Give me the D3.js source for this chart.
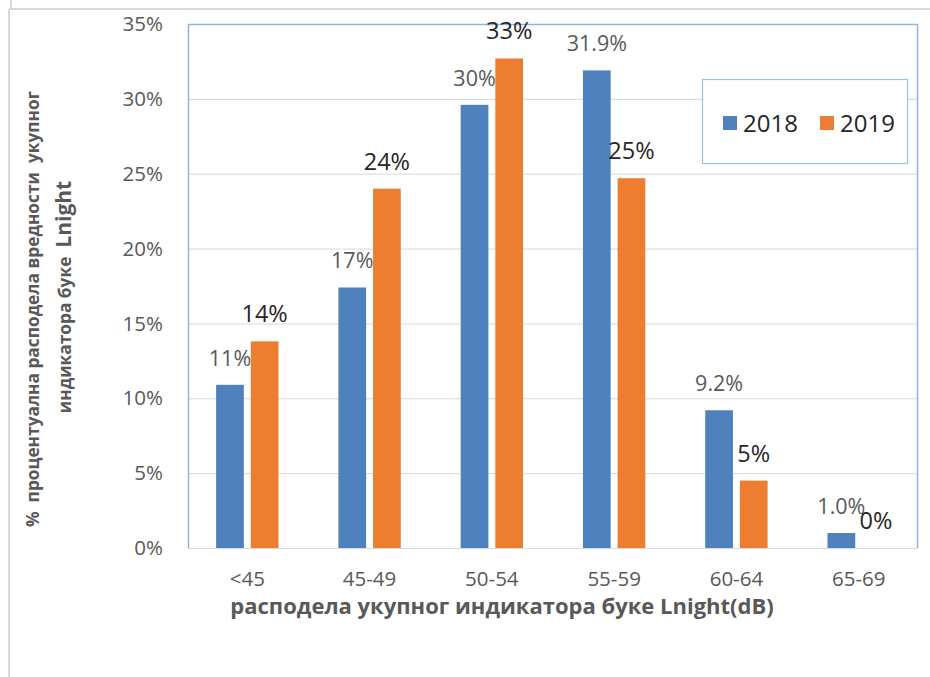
<!DOCTYPE html>
<meta charset="utf-8">
<style>
body { margin: 0; background: #fff; }
svg { display: block; font-family: "Open Sans", sans-serif; }
.grid line { stroke: #d9d9d9; stroke-width: 1; }
.tick-label { fill: #595959; font-size: 20.5px; }
.axis-title { fill: #595959; font-weight: bold; }
</style>
<svg width="930" height="677"></svg>
<script src="https://d3js.org/d3.v7.min.js"></script>
<script>
var categories = ["<45", "45-49", "50-54", "55-59", "60-64", "65-69"];
var series = ["2018", "2019"];
var values2018 = [10.9, 17.4, 29.6, 31.9, 9.2, 1.0];
var values2019 = [13.8, 24.0, 32.7, 24.7, 4.5, 0];
var labels2018 = ["11%", "17%", "30%", "31.9%", "9.2%", "1.0%"];
var labels2019 = ["14%", "24%", "33%", "25%", "5%", "0%"];
var yTicks = [0, 5, 10, 15, 20, 25, 30, 35];
var colors = ["#4f81bd", "#ed7d31"];

var svg = d3.select("svg");
var margin = {left: 188, top: 24, right: 12, bottom: 129};
var width = 930 - margin.left - margin.right,
    height = 677 - margin.top - margin.bottom;

// outer frame remnants from the screenshot
svg.append("line").attr("x1", 9).attr("x2", 9).attr("y1", 9).attr("y2", 677)
    .attr("stroke", "#d9d9d9").attr("stroke-width", 2);
svg.append("line").attr("x1", 9).attr("x2", 930).attr("y1", 9).attr("y2", 9)
    .attr("stroke", "#d9d9d9").attr("stroke-width", 2);
svg.append("line").attr("x1", 11).attr("x2", 11).attr("y1", 0).attr("y2", 9)
    .attr("stroke", "#d9d9d9").attr("stroke-width", 2);

var g = svg.append("g").attr("transform", "translate(" + margin.left + "," + margin.top + ")");

var x0 = d3.scaleBand().domain(categories).range([0, width])
    .paddingInner(0.49).paddingOuter(0.23);
var x1 = d3.scaleBand().domain(series).range([0, x0.bandwidth()]).paddingInner(0.2);
var y = d3.scaleLinear().domain([0, 35]).range([height, 0]);

// gridlines
g.append("g").attr("class", "grid")
  .selectAll("line").data(yTicks).enter().append("line")
    .attr("x1", 0).attr("x2", width)
    .attr("y1", function(d) { return y(d) + 0.5; })
    .attr("y2", function(d) { return y(d) + 0.5; });

// plot border (left, top, right)
g.append("path")
    .attr("d", "M0.5," + height + "V0.5H" + (width - 0.5) + "V" + height)
    .attr("fill", "none").attr("stroke", "#8eb4e3").attr("stroke-width", 1.5);

// y tick labels
g.selectAll(".ylab").data(yTicks).enter().append("text")
    .attr("class", "tick-label")
    .attr("x", -25)
    .attr("y", function(d) { return y(d); })
    .attr("dy", "0.35em")
    .attr("text-anchor", "end")
    .text(function(d) { return d + "%"; });

// x tick labels
g.selectAll(".xlab").data(categories).enter().append("text")
    .attr("class", "tick-label")
    .attr("x", function(d) { return x0(d) + x0.bandwidth() / 2; })
    .attr("y", height + 38)
    .attr("text-anchor", "middle")
    .text(function(d) { return d; });

var rows = categories.map(function(c, i) {
    return {cat: c, vals: [
        {s: "2018", v: values2018[i], label: labels2018[i]},
        {s: "2019", v: values2019[i], label: labels2019[i]}
    ]};
});

var groups = g.selectAll(".grp").data(rows).enter().append("g")
    .attr("transform", function(d) { return "translate(" + x0(d.cat) + ",0)"; });

groups.selectAll("rect").data(function(d) { return d.vals; }).enter().append("rect")
    .attr("x", function(d) { return x1(d.s); })
    .attr("y", function(d) { return y(d.v); })
    .attr("width", x1.bandwidth())
    .attr("height", function(d) { return height - y(d.v); })
    .attr("fill", function(d, i) { return colors[i]; });

groups.selectAll("text").data(function(d) { return d.vals; }).enter().append("text")
    .attr("x", function(d) { return x1(d.s) + x1.bandwidth() / 2; })
    .attr("y", function(d) { return y(d.v) - 19; })
    .attr("text-anchor", "middle")
    .attr("fill", function(d) { return d.s === "2018" ? "#595959" : "#262626"; })
    .style("font-size", function(d) { return d.s === "2018" ? "21.5px" : "23.5px"; })
    .text(function(d) { return d.label; });

// legend
var legend = svg.append("g");
legend.append("rect")
    .attr("x", 702.5).attr("y", 79.5).attr("width", 205).attr("height", 84)
    .attr("fill", "#fff").attr("stroke", "#9dc3e6").attr("stroke-width", 1.2);
var li = legend.selectAll(".li").data(series).enter().append("g")
    .attr("transform", function(d, i) { return "translate(" + (723 + i * 97) + ",116)"; });
li.append("rect").attr("width", 14).attr("height", 14)
    .attr("fill", function(d, i) { return colors[i]; });
li.append("text").attr("x", 20).attr("y", 7).attr("dy", "0.36em")
    .attr("fill", "#262626").style("font-size", "24px")
    .text(function(d) { return d; });

// x axis title
svg.append("text").attr("class", "axis-title")
    .attr("x", 502).attr("y", 614)
    .attr("text-anchor", "middle")
    .style("font-size", "22px")
    .text("расподела укупног индикатора буке Lnight(dB)");

// y axis title, two lines
svg.append("text").attr("class", "axis-title")
    .attr("transform", "translate(39,309) rotate(-90)")
    .attr("text-anchor", "middle")
    .style("font-size", "17.3px")
    .style("white-space", "pre")
    .text("%  процентуална расподела вредности  укупног");
var t2 = svg.append("text").attr("class", "axis-title")
    .attr("transform", "translate(71,297) rotate(-90)")
    .attr("text-anchor", "middle")
    .style("white-space", "pre");
t2.append("tspan").style("font-size", "17.3px").text("индикатора буке  ");
t2.append("tspan").style("font-size", "21px").text("Lnight");
</script>
